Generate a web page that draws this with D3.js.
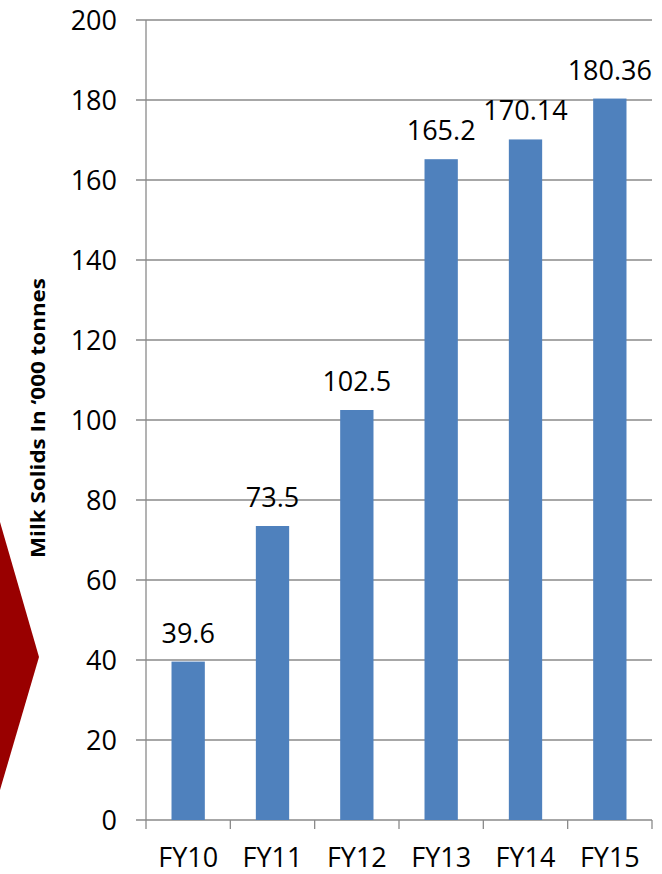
<!DOCTYPE html>
<html>
<head>
<meta charset="utf-8">
<script src="https://cdn.jsdelivr.net/npm/d3@7"></script>
<style>
  html, body { margin: 0; padding: 0; background: #fff; }
  svg { display: block; }
  text { font-family: "Open Sans", "Noto Sans", sans-serif; fill: #000; }
</style>
</head>
<body>
<script>
// Milk solids output by financial year ('000 tonnes)
const years = ["FY10", "FY11", "FY12", "FY13", "FY14", "FY15"];
const milkSolids = [39.6, 73.5, 102.5, 165.2, 170.14, 180.36];
const yTicks = [0, 20, 40, 60, 80, 100, 120, 140, 160, 180, 200];
const axisTitle = "Milk Solids In \u2018000 tonnes";

const W = 662, H = 874;
const svg = d3.select("body").append("svg").attr("width", W).attr("height", H);

const plot = { left: 146, right: 652, top: 20, bottom: 820 };

const x = d3.scaleBand().domain(years).range([plot.left, plot.right]).padding(0);
const y = d3.scaleLinear().domain([0, 200]).range([plot.bottom, plot.top]);
const barW = x.bandwidth() * 0.395;

// Decorative chevron at the left edge
svg.append("path")
  .attr("d", d3.line()([[0, 522], [39, 657], [0, 790]]) + "Z")
  .attr("fill", "#990000");

const gridColor = "#8a8a8a";

// Horizontal gridlines, extended left to form the y tick marks
svg.append("g").selectAll("line").data(yTicks).join("line")
  .attr("x1", plot.left - 10).attr("x2", plot.right)
  .attr("y1", d => y(d)).attr("y2", d => y(d))
  .attr("stroke", gridColor).attr("stroke-width", 1.3);

// y axis line
svg.append("line")
  .attr("x1", plot.left).attr("x2", plot.left)
  .attr("y1", plot.top).attr("y2", plot.bottom)
  .attr("stroke", gridColor).attr("stroke-width", 1.3);

// x tick marks at band boundaries
const boundaries = years.map(d => x(d)).concat([x(years[years.length - 1]) + x.bandwidth()]);
svg.append("g").selectAll("line").data(boundaries).join("line")
  .attr("x1", d => d).attr("x2", d => d)
  .attr("y1", plot.bottom).attr("y2", plot.bottom + 9)
  .attr("stroke", gridColor).attr("stroke-width", 1.3);

// y tick labels
svg.append("g").selectAll("text").data(yTicks).join("text")
  .attr("x", 117).attr("y", d => y(d) + 9.5)
  .attr("text-anchor", "end")
  .attr("font-size", 27)
  .text(d => d);

// x tick labels
svg.append("g").selectAll("text").data(years).join("text")
  .attr("x", d => x(d) + x.bandwidth() / 2).attr("y", 867)
  .attr("text-anchor", "middle")
  .attr("font-size", 27)
  .text(d => d);

// Bars
svg.append("g").selectAll("rect").data(years).join("rect")
  .attr("x", (d, i) => x(d) + (x.bandwidth() - barW) / 2)
  .attr("y", (d, i) => y(milkSolids[i]))
  .attr("width", barW)
  .attr("height", (d, i) => y(0) - y(milkSolids[i]))
  .attr("fill", "#4f81bd");

// Value labels
svg.append("g").selectAll("text").data(years).join("text")
  .attr("x", d => x(d) + x.bandwidth() / 2)
  .attr("y", (d, i) => y(milkSolids[i]) - 19)
  .attr("text-anchor", "middle")
  .attr("font-size", 27)
  .text((d, i) => milkSolids[i]);

// Axis title
svg.append("text")
  .attr("transform", "translate(45,418) rotate(-90)")
  .attr("text-anchor", "middle")
  .attr("font-size", 20)
  .attr("font-weight", "bold")
  .attr("textLength", 280)
  .attr("lengthAdjust", "spacingAndGlyphs")
  .text(axisTitle);
</script>
</body>
</html>
